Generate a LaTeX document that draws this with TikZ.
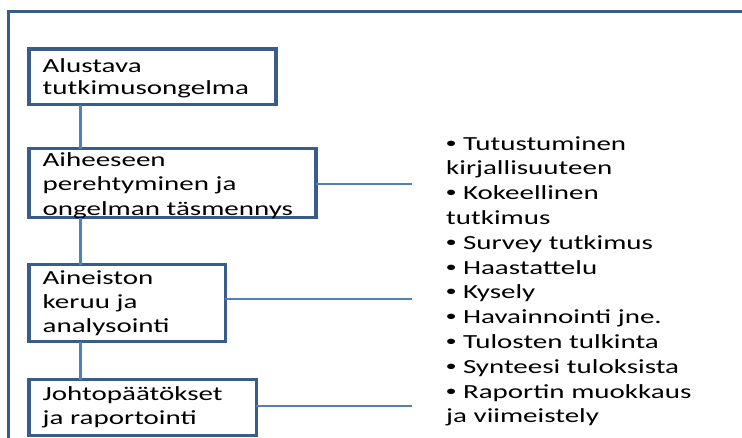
\documentclass[tikz,border=0pt]{standalone}
\usepackage{fontspec}
\setmainfont[FakeStretch=1.45]{Carlito}
\newfontfamily\dotfont[FakeStretch=1.45]{Liberation Sans}
\newcommand{\itemdot}{{\dotfont •}}
\definecolor{frameblue}{HTML}{385D8A}
\definecolor{linkblue}{HTML}{4F81BD}
\begin{document}
\begin{tikzpicture}[x=1pt,y=-1pt,
  outerframe/.style={draw=frameblue,line width=3.2pt},
  stagebox/.style={draw=frameblue,line width=3.4pt,rectangle,inner sep=0pt,outer sep=0pt,anchor=north west},
  link/.style={draw=linkblue,line width=3.6pt},
  branch/.style={draw=linkblue,line width=2.2pt},
  steptext/.style={anchor=base west,inner sep=0pt,text width=300pt,align=left,
    font=\fontsize{20}{24.3}\selectfont},
]
\useasboundingbox (0,0) rectangle (742,437);
\clip (0,0) rectangle (742,437);

% open outer frame (top and left sides)
\coordinate (fbl) at (8.3,470);
\coordinate (ftl) at (8.3,11.6);
\coordinate (ftr) at (770,11.6);
\draw[outerframe] (fbl) -- (ftl) -- (ftr);

% process stages
\node[stagebox,minimum width=247pt,minimum height=55.5pt] (b1) at (28.8,49) {};
\node[stagebox,minimum width=287pt,minimum height=69pt] (b2) at (28.8,148.5) {};
\node[stagebox,minimum width=196.5pt,minimum height=77pt] (b3) at (28.8,264.5) {};
\node[stagebox,minimum width=227.5pt,minimum height=56pt] (b4) at (28.8,379.5) {};

\node[steptext,font=\fontsize{20}{21.7}\selectfont] (t1) at (42.5,72.7) {Alustava\\tutkimusongelma};
\node[steptext] (t2) at (42.5,166.5) {Aiheeseen\\perehtyminen ja\\ongelman täsmennys};
\node[steptext] (t3) at (42.5,284) {Aineiston\\keruu ja\\analysointi};
\node[steptext] (t4) at (42.5,400) {Johtopäätökset\\ja raportointi};

% spine linking the stages
\coordinate (spine) at (80.5,0);
\draw[link] (b1.south -| spine) -- (b2.north -| spine);
\draw[link] (b2.south -| spine) -- (b3.north -| spine);
\draw[link] (b3.south -| spine) -- (b4.north -| spine);

% branches towards the task list
\coordinate (e2) at (412,184);
\coordinate (e3) at (412,299);
\coordinate (e4) at (412,406);
\draw[branch] (b2.east |- e2) -- (e2);
\draw[branch] (b3.east |- e3) -- (e3);
\draw[branch] (b4.east |- e4) -- (e4);

% task list
\node[steptext,font=\fontsize{20}{24.8}\selectfont] (tasks) at (446,150)
  {\itemdot{} Tutustuminen\\kirjallisuuteen\\\itemdot{} Kokeellinen\\tutkimus\\\itemdot{} Survey tutkimus\\\itemdot{} Haastattelu\\\itemdot{} Kysely\\\itemdot{} Havainnointi jne.\\\itemdot{} Tulosten tulkinta\\\itemdot{} Synteesi tuloksista\\\itemdot{} Raportin muokkaus\\ja viimeistely};
\end{tikzpicture}
\end{document}
